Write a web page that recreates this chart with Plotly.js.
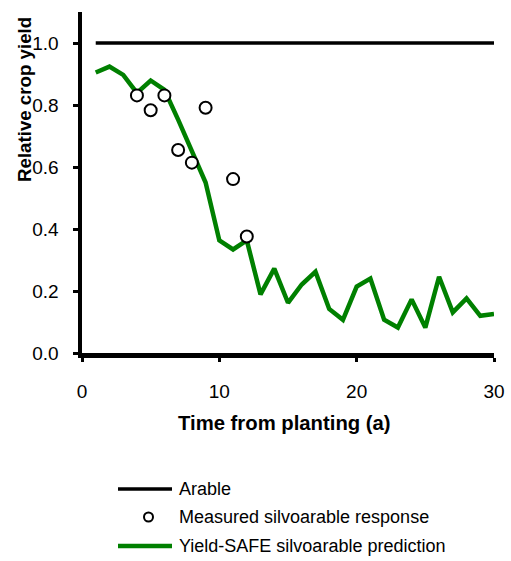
<!DOCTYPE html>
<html><head><meta charset="utf-8">
<script src="https://cdn.plot.ly/plotly-3.0.1.min.js"></script>
<style>html,body{margin:0;padding:0;background:#fff;}#chart{width:511px;height:561px;}</style>
</head><body><div id="chart"></div>
<script>
const years = [1,2,3,4,5,6,7,8,9,10,11,12,13,14,15,16,17,18,19,20,21,22,23,24,25,26,27,28,29,30];
const arable = [1,1,1,1,1,1,1,1,1,1,1,1,1,1,1,1,1,1,1,1,1,1,1,1,1,1,1,1,1,1];
const predicted = [0.905,0.924,0.897,0.839,0.879,0.849,0.753,0.650,0.550,0.363,0.334,0.363,0.189,0.272,0.162,0.221,0.262,0.142,0.107,0.214,0.240,0.107,0.082,0.173,0.082,0.246,0.131,0.176,0.120,0.126];
const measuredX = [4,5,6,7,8,9,11,12];
const measuredY = [0.831,0.783,0.831,0.655,0.614,0.791,0.561,0.376];
const yTicks = [0,0.2,0.4,0.6,0.8,1.0];
const xTicks = [0,10,20,30];
const seriesNames = ['Arable', 'Measured silvoarable response', 'Yield-SAFE silvoarable prediction'];
const xTitle = 'Time from planting (a)';
const yTitle = 'Relative crop yield';

const font = "Liberation Sans, Arial, sans-serif";
const W = 511, H = 561;
const M = {l: 82, r: 17, t: 12, b: 208};
const PW = W - M.l - M.r, PH = H - M.t - M.b;
const px2x = p => (p - M.l) / PW;
const py2y = p => (H - M.b - p) / PH;

const data = [
  {x: years, y: arable, mode: 'lines', name: seriesNames[0], line: {color: '#000000', width: 3.5}},
  {x: years, y: predicted, mode: 'lines', name: seriesNames[2], line: {color: '#008000', width: 4.5}},
  {x: measuredX, y: measuredY, mode: 'markers', name: seriesNames[1],
   marker: {symbol: 'circle', size: 12, color: '#ffffff', line: {color: '#000000', width: 2}}}
];

// custom legend (drawn in pixel positions converted to paper)
const legRows = [489, 517, 546];
const shapes = [
  {type: 'line', xref: 'paper', yref: 'paper', x0: px2x(118), x1: px2x(172), y0: py2y(legRows[0]), y1: py2y(legRows[0]),
   line: {color: '#000000', width: 3.5}},
  {type: 'circle', xref: 'paper', yref: 'paper', x0: px2x(144), x1: px2x(153), y0: py2y(legRows[1] - 4.5), y1: py2y(legRows[1] + 4.5),
   fillcolor: '#ffffff', line: {color: '#000000', width: 2}},
  {type: 'line', xref: 'paper', yref: 'paper', x0: px2x(118), x1: px2x(172), y0: py2y(legRows[2]), y1: py2y(legRows[2]),
   line: {color: '#008000', width: 4.5}}
];
const annotations = [
  {text: '<b>' + xTitle + '</b>', xref: 'paper', yref: 'paper', x: px2x(284), y: py2y(423), xanchor: 'center', yanchor: 'middle',
   showarrow: false, font: {family: font, size: 20.3}},
  {text: '<b>' + yTitle + '</b>', xref: 'paper', yref: 'paper', x: px2x(24), y: py2y(100), xanchor: 'center', yanchor: 'middle',
   textangle: -90, showarrow: false, font: {family: font, size: 18.7}}
];
seriesNames.forEach((n, i) => annotations.push({
  text: n, xref: 'paper', yref: 'paper', x: px2x(177), y: py2y(legRows[i]), xanchor: 'left', yanchor: 'middle',
  showarrow: false, font: {family: font, size: 18}
}));

const layout = {
  width: W, height: H,
  margin: M,
  paper_bgcolor: '#ffffff', plot_bgcolor: '#ffffff',
  font: {family: font, size: 19, color: '#000000'},
  showlegend: false,
  xaxis: {range: [0, 30], tickvals: xTicks, ticks: 'outside', ticklen: 4, tickwidth: 3, tickcolor: '#000',
          showline: true, linewidth: 4.5, linecolor: '#000', showgrid: false, zeroline: false,
          ticklabelstandoff: 14, fixedrange: true},
  yaxis: {range: [0, 1.1], tickvals: yTicks, tickformat: '.1f', ticks: 'outside', ticklen: 5, tickwidth: 3, tickcolor: '#000',
          showline: true, linewidth: 4.5, linecolor: '#000', showgrid: false, zeroline: false,
          ticklabelstandoff: 10, fixedrange: true},
  shapes: shapes,
  annotations: annotations
};
Plotly.newPlot('chart', data, layout, {displayModeBar: false, staticPlot: true});
</script></body></html>
